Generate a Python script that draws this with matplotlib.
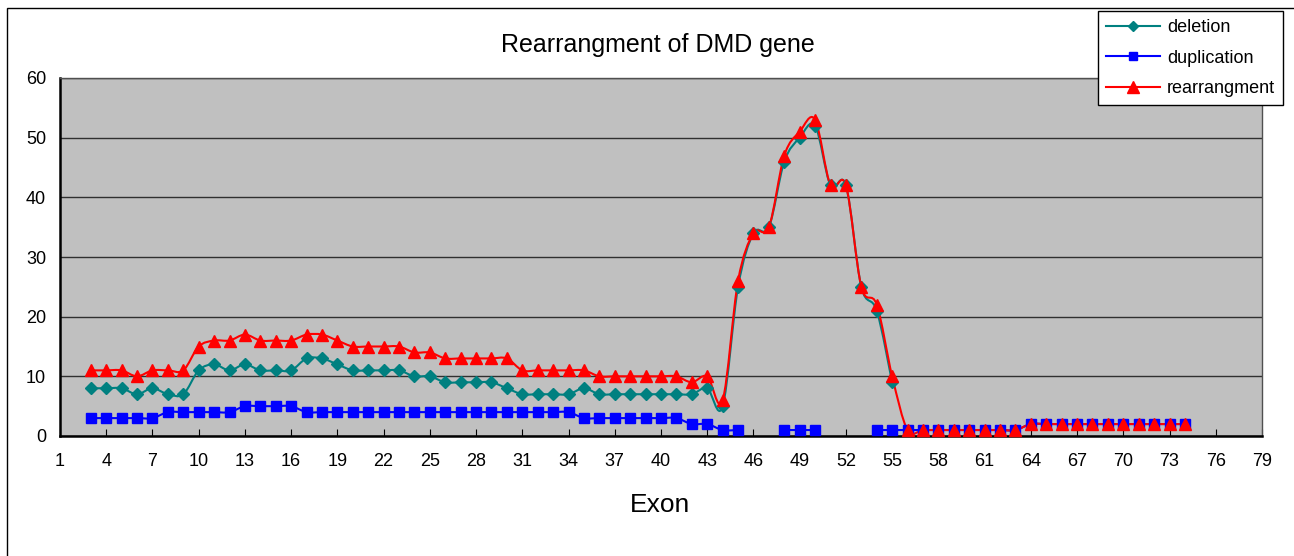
import matplotlib
matplotlib.use('Agg')
import matplotlib.pyplot as plt
from matplotlib.path import Path
from matplotlib.patches import PathPatch, Rectangle
from matplotlib.lines import Line2D

plt.rcParams['font.family'] = ['Liberation Sans', 'DejaVu Sans']

exons = list(range(3, 75))

deletion = [8, 8, 8, 7, 8, 7, 7, 11, 12, 11, 12, 11, 11, 11, 13, 13, 12, 11, 11, 11, 11,
            10, 10, 9, 9, 9, 9, 8, 7, 7, 7, 7, 8, 7, 7, 7, 7, 7, 7, 7, 8, 5,
            25, 34, 35, 46, 50, 52, 42, 42, 25, 21, 9] + [None] * 19

duplication = ([3] * 5 + [4] * 5 + [5] * 4 + [4] * 18 + [3] * 7 + [2] * 2 + [1] * 2
               + [None] * 2 + [1] * 3 + [None] * 3 + [1] * 10 + [2] * 11)

rearrangment = [11, 11, 11, 10, 11, 11, 11, 15, 16, 16, 17, 16, 16, 16, 17, 17, 16, 15, 15, 15, 15,
                14, 14, 13, 13, 13, 13, 13, 11, 11, 11, 11, 11, 10, 10, 10, 10, 10, 10, 9, 10, 6,
                26, 34, 35, 47, 51, 53, 42, 42, 25, 22, 10] + [1] * 8 + [2] * 11

series = [
    ('deletion', deletion, '#008080', 'D', 6.5),
    ('duplication', duplication, '#0000FF', 's', 7),
    ('rearrangment', rearrangment, '#FF0000', '^', 9),
]


def smooth_path(xs, ys):
    # excel style smoothed line, broken at blanks
    verts, codes = [], []
    runs, cur = [], []
    for x, y in zip(xs, ys):
        if y is None:
            if cur:
                runs.append(cur)
            cur = []
        else:
            cur.append((x, y))
    if cur:
        runs.append(cur)
    for pts in runs:
        verts.append(pts[0])
        codes.append(Path.MOVETO)
        n = len(pts)
        for i in range(n - 1):
            p0 = pts[i - 1] if i > 0 else pts[i]
            p1 = pts[i]
            p2 = pts[i + 1]
            p3 = pts[i + 2] if i + 2 < n else pts[i + 1]
            c1 = (p1[0] + (p2[0] - p0[0]) / 6, p1[1] + (p2[1] - p0[1]) / 6)
            c2 = (p2[0] - (p3[0] - p1[0]) / 6, p2[1] - (p3[1] - p1[1]) / 6)
            verts += [c1, c2, p2]
            codes += [Path.CURVE4] * 3
    return Path(verts, codes)


fig = plt.figure(figsize=(12.94, 5.56), dpi=100)
ax = fig.add_axes([60 / 1294, 1 - 436 / 556, 1202 / 1294, 358 / 556])
ax.set_facecolor('#C0C0C0')

handles = []
for name, vals, col, mk, ms in series:
    ax.add_patch(PathPatch(smooth_path(exons, vals), facecolor='none', edgecolor=col, lw=1.5, zorder=3))
    xs = [x for x, v in zip(exons, vals) if v is not None]
    ys = [v for v in vals if v is not None]
    ax.plot(xs, ys, linestyle='none', marker=mk, markersize=ms, color=col,
            markeredgecolor=col, zorder=4, clip_on=False)
    handles.append(Line2D([], [], color=col, lw=1.5, marker=mk, markersize=ms - 1, label=name))

ax.set_xlim(1, 79)
ax.set_ylim(0, 60)
ax.set_xticks(range(1, 80, 3))
ax.set_yticks(range(0, 61, 10))
ax.yaxis.grid(True, color='#303030', lw=1)
ax.set_axisbelow(True)
ax.tick_params(axis='x', direction='in', length=5, pad=12, labelsize=13)
ax.tick_params(axis='y', length=0, pad=10, labelsize=13)
for s in ['top', 'right']:
    ax.spines[s].set_color('#505050')
    ax.spines[s].set_linewidth(1)
for s in ['left', 'bottom']:
    ax.spines[s].set_color('black')
    ax.spines[s].set_linewidth(1.8)

fig.text(658 / 1294, 1 - 45 / 556, 'Rearrangment of DMD gene', ha='center', va='center', fontsize=18)
fig.text(660 / 1294, 1 - 505 / 556, 'Exon', ha='center', va='center', fontsize=19)

fig.add_artist(Rectangle((7 / 1294, -0.1), 1.2, 1.1 - 8 / 556, transform=fig.transFigure,
                         facecolor='none', edgecolor='black', lw=1))

leg = fig.legend(handles=handles, loc='upper right', bbox_to_anchor=(1283 / 1294, 1 - 11 / 556),
                 fontsize=13, frameon=True, fancybox=False, framealpha=1, edgecolor='black',
                 handlelength=3.0, labelspacing=0.75, borderpad=0.45, handletextpad=0.35, borderaxespad=0)
leg.get_frame().set_linewidth(1)

fig.savefig('out.png', dpi=100)
